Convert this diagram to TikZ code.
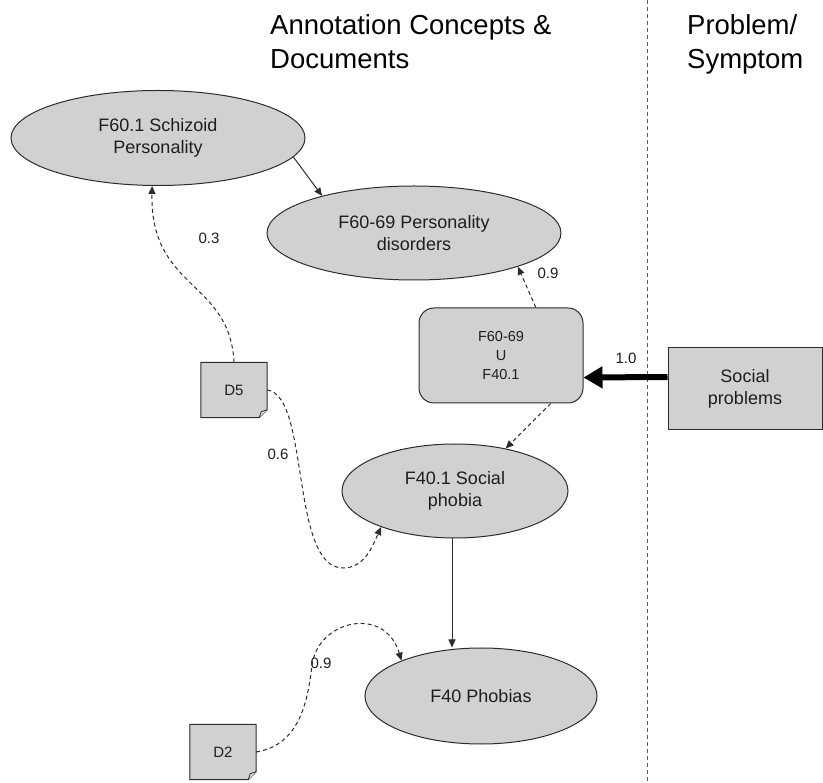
\documentclass[tikz,border=0pt]{standalone}
\usepackage{fontspec}
\setmainfont{Liberation Sans}
\usetikzlibrary{shapes.geometric,arrows.meta,calc}
\definecolor{nodefill}{RGB}{209,209,209}
\definecolor{edge}{RGB}{45,45,45}
\definecolor{ink}{RGB}{30,30,30}
\begin{document}
\begin{tikzpicture}[x=1pt,y=-1pt,
  concept/.style={ellipse, draw=edge, line width=1pt, fill=nodefill, inner sep=0pt,
    align=center, text=ink, font=\fontsize{18}{22}\selectfont},
  union/.style={rectangle, rounded corners=15pt, draw=edge, line width=1pt, fill=nodefill,
    inner sep=0pt, minimum width=164pt, minimum height=95pt, align=center, text=ink,
    font=\fontsize{14.5}{19}\selectfont},
  symptom/.style={rectangle, draw=edge, line width=1pt, fill=nodefill, inner sep=0pt,
    minimum width=154pt, minimum height=82pt, align=center, text=ink,
    font=\fontsize{18}{22}\selectfont},
  docnode/.style={rectangle, inner sep=0pt, minimum width=66pt, minimum height=55pt,
    text=ink, font=\fontsize{15}{18}\selectfont},
  heading/.style={anchor=north west, inner sep=0pt, align=left, text=black,
    font=\fontsize{27.5}{34}\selectfont},
  weight/.style={inner sep=0pt, text=ink, font=\fontsize{15}{18}\selectfont},
  isa/.style={draw=edge, line width=1pt, -{Triangle[length=8pt,width=7pt]}},
  link/.style={draw=edge, line width=1pt, dash pattern=on 4pt off 3pt,
    -{Triangle[length=8pt,width=7pt]}},
  mapping/.style={draw=black, line width=6pt, -{Triangle[length=19pt,width=21pt]}},
  divider/.style={draw=gray!70!black, line width=0.9pt, dash pattern=on 4pt off 3pt}
]
\useasboundingbox[fill=white] (0,0) rectangle (823,783);

% column headings and divider
\node[heading] (hconcepts) at (270,14) {Annotation Concepts \&\\Documents};
\node[heading] (hproblem) at (687,14) {Problem/\\Symptom};
\coordinate (divtop) at (647.5,0);
\coordinate (divbot) at (647.5,783);
\draw[divider] (divtop) -- (divbot);

% concept nodes
\node[concept, minimum width=294pt, minimum height=95pt] (schiz) at (158,138)
  {F60.1 Schizoid\\Personality};
\node[concept, minimum width=294pt, minimum height=94pt] (pers) at (414,233)
  {F60-69 Personality\\disorders};
\node[concept, minimum width=226pt, minimum height=94pt] (social) at (455,491)
  {F40.1 Social\\phobia};
\node[concept, minimum width=232pt, minimum height=96pt] (phob) at (481,696)
  {F40 Phobias};
\node[union] (uni) at (501,355.5) {F60-69\\U\\F40.1};
\node[symptom] (symp) at (745,389) {Social\\problems};

% documents with folded corner
\node[docnode] (d5) at (234,390) {};
\node[docnode] (d2) at (223,752) {};
\foreach \d in {d5,d2}{
  \draw[draw=edge, line width=1pt, fill=nodefill]
    (\d.north west) -- (\d.north east) -- ($(\d.south east)+(0,-8)$)
    -- ($(\d.south east)+(-8,0)$) -- (\d.south west) -- cycle;
  \draw[draw=edge, line width=0.8pt, fill=nodefill!70!white]
    ($(\d.south east)+(0,-8)$) -- ($(\d.south east)+(-6,-6)$) -- ($(\d.south east)+(-8,0)$);
}
\node[docnode] at (d5) {D5};
\node[docnode] at (d2) {D2};

% taxonomy edges
\draw[isa] (schiz.-8.8) -- (pers.158.6);
\draw[isa] (social.south -| 452,0) -- (phob.north -| 452,0);

% union links
\draw[link] (uni.54) -- (pers.-18);
\draw[link] (uni.-44) -- (social.40);
\draw[mapping] ([yshift=12pt]symp.west) -- ([yshift=-22pt]uni.east);

% document links
\draw[link] (d5.north) .. controls (230,280) and (150,290) .. (schiz.263);
\draw[link] (d5.east) .. controls (310,395) and (290,568) .. (343,568)
  .. controls (365,568) and (373,545) .. (social.206);
\draw[link] (d2.east) .. controls (300,745) and (308,700) .. (312,665)
  .. controls (318,620) and (385,605) .. (phob.156);

% weights
\node[weight] (w03) at (209,238) {0.3};
\node[weight] (w09a) at (548,273) {0.9};
\node[weight] (w10) at (626,358) {1.0};
\node[weight] (w06) at (278,454) {0.6};
\node[weight] (w09b) at (321,663) {0.9};
\end{tikzpicture}
\end{document}
